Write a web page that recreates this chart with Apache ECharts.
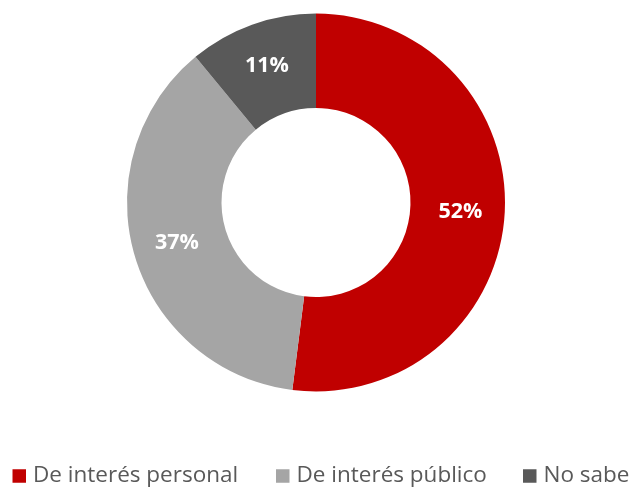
<!DOCTYPE html>
<html>
<head>
<meta charset="utf-8">
<script src="https://cdn.jsdelivr.net/npm/echarts@6/dist/echarts.min.js"></script>
<style>
html,body{margin:0;padding:0;background:#fff;}
#chart{width:629px;height:487px;}
</style>
</head>
<body>
<div id="chart"></div>
<script>
const categories = ['De interés personal', 'De interés público', 'No sabe'];
const values = [52, 37, 11];
const colors = ['#C00000', '#A5A5A5', '#595959'];

const legendLefts = [12.5, 276, 523];
const chart = echarts.init(document.getElementById('chart'));
chart.setOption({
  animation: false,
  color: colors,
  legend: categories.map((c, i) => ({
    data: [c],
    left: legendLefts[i],
    top: 464.5,
    padding: 0,
    itemWidth: 13.5,
    itemHeight: 13.5,
    itemGap: 0,
    icon: 'rect',
    textStyle: { fontFamily: 'Open Sans', fontSize: 22.5, color: '#595959', padding: [0,0,0,2] }
  })),
  series: [{
    type: 'pie',
    center: [316, 202.5],
    radius: [94.5, 189],
    startAngle: 90,
    clockwise: true,
    avoidLabelOverlap: false,
    label: {
      show: true,
      position: 'inside',
      formatter: '{c}%',
      color: '#fff',
      fontFamily: 'Open Sans',
      fontWeight: 'bold',
      fontSize: 21.5
    },
    labelLine: { show: false },
    itemStyle: { borderWidth: 0 },
    emphasis: { disabled: true },
    data: categories.map((c, i) => ({ name: c, value: values[i] }))
  }]
});
</script>
</body>
</html>
